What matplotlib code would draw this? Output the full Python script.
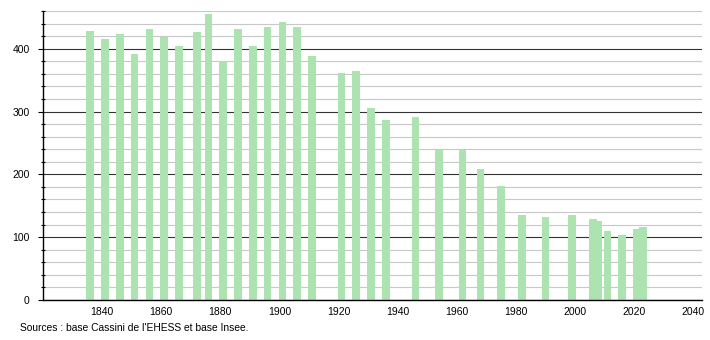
import matplotlib.pyplot as plt
from matplotlib.ticker import MultipleLocator

plt.rcParams['font.family'] = ['Liberation Sans', 'DejaVu Sans']

# population by census year
years = [1836, 1841, 1846, 1851, 1856, 1861, 1866, 1872, 1876, 1881, 1886, 1891,
         1896, 1901, 1906, 1911, 1921, 1926, 1931, 1936, 1946, 1954, 1962, 1968,
         1975, 1982, 1990, 1999, 2006, 2008, 2011, 2016, 2021, 2023]
population = [428, 416, 424, 391, 431, 419, 404, 426, 456, 381, 431, 404,
              434, 442, 434, 388, 362, 364, 305, 286, 292, 238, 238, 208,
              181, 135, 132, 135, 129, 125, 110, 103, 113, 116]

fig = plt.figure(figsize=(7.1, 3.4), dpi=100)
ax = fig.add_axes([43/710, 1 - 300/340, 659/710, 289/340])

ax.set_axisbelow(True)
ax.bar(years, population, width=2.6, color='#ade3b0', zorder=2)

ax.set_xlim(1820, 2043)
ax.set_ylim(0, 460)
ax.yaxis.set_major_locator(MultipleLocator(100))
ax.yaxis.set_minor_locator(MultipleLocator(20))
ax.set_xticks(range(1840, 2041, 20))

ax.grid(which='minor', axis='y', color='#c8c8c8', linewidth=0.8)
ax.grid(which='major', axis='y', color='#333333', linewidth=0.8)

for s in ['top', 'right']:
    ax.spines[s].set_visible(False)
ax.spines['left'].set_linewidth(1)
ax.spines['bottom'].set_linewidth(1)

ax.tick_params(axis='x', length=0, pad=5, labelsize=7.5)
ax.tick_params(axis='y', which='major', length=3.5, width=0.8, pad=6, labelsize=7.5)
ax.tick_params(axis='y', which='minor', length=3, width=0.8, direction='inout')

fig.text(20/710, 1 - 328/340, "Sources : base Cassini de l'EHESS et base Insee.",
         fontsize=7.4, va='center', ha='left')

fig.savefig('out.png', dpi=100)
